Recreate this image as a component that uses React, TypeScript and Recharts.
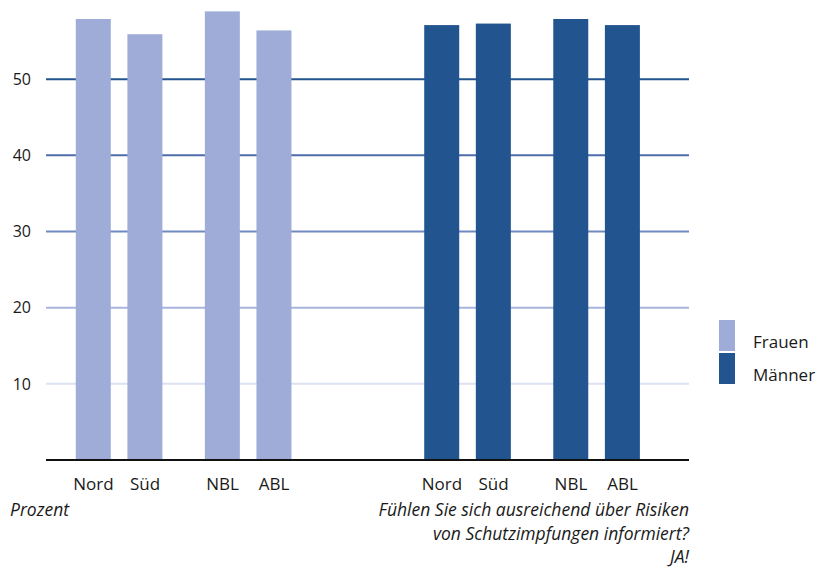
import React from 'react';
import { BarChart, Bar, XAxis, YAxis, CartesianGrid, Legend } from 'recharts';

// Werte in Prozent
const regions = ['Nord', 'Süd', 'NBL', 'ABL'];
const frauen = [57.9, 55.9, 58.9, 56.4];
const maenner = [57.1, 57.3, 57.9, 57.1];
const yTicks = [10, 20, 30, 40, 50];

const FONT = '"Open Sans", sans-serif';
const TEXT = '#1a1a1a';
const LIGHT = '#9eacd7';
const DARK = '#22558f';
// one colour per grid line, same order as yTicks
const GRID_COLORS = ['#dde2f2', '#a8b5dd', '#7189c1', '#4e6eab', '#22558f'];
const BAR_W = 35;

const groups = [
  { key: 'frauen', name: 'Frauen', values: frauen, color: LIGHT },
  { key: 'maenner', name: 'Männer', values: maenner, color: DARK },
];

// empty slots keep the pairs apart on the category axis
const rows: Record<string, string | number>[] = [];
const blanks = (n: number) => {
  for (let i = 0; i < n; i++) rows.push({ label: '' });
};
groups.forEach((g, gi) => {
  if (gi > 0) blanks(12);
  regions.forEach((r, ri) => {
    if (ri > 0) blanks(ri === 2 ? 5 : 3);
    rows.push({ label: r, [g.key]: g.values[ri] });
  });
});

const WideBar = (props: any) => {
  const { x, y, width, height, fill } = props;
  if (!height || height <= 0) return null;
  const cx = x + width / 2;
  return <rect x={cx - BAR_W / 2} y={y} width={BAR_W} height={height} fill={fill} />;
};

const GridLine = (props: any) => {
  const { x1, x2, y1, y2, index } = props;
  const stroke = GRID_COLORS[index];
  if (!stroke) return null;
  return <line x1={x1} x2={x2} y1={y1} y2={y2} stroke={stroke} strokeWidth={2} />;
};

const renderLegend = (props: any) => {
  const { payload = [] } = props;
  return (
    <div style={{ fontFamily: FONT }}>
      {payload.map((entry: any) => (
        <div key={entry.value} style={{ position: 'relative', height: 33 }}>
          <div style={{ position: 'absolute', left: 0, top: 0, width: 16, height: 31, background: entry.color }} />
          <div style={{ position: 'absolute', left: 34, top: 13, fontSize: 17, lineHeight: '17px', color: TEXT }}>
            {entry.value}
          </div>
        </div>
      ))}
    </div>
  );
};

const note: React.CSSProperties = {
  position: 'absolute',
  top: 498,
  fontSize: 17.5,
  lineHeight: '23.5px',
  fontStyle: 'italic',
  color: TEXT,
};

const App: React.FC = () => {
  return (
    <div style={{ position: 'absolute', left: 0, top: 0, width: 820, height: 571, background: '#fff', fontFamily: FONT }}>
      <BarChart
        width={820}
        height={571}
        data={rows}
        margin={{ top: 3, right: 30, bottom: 81, left: 0 }}
      >
        <CartesianGrid vertical={false} horizontal={GridLine} />
        <XAxis
          dataKey="label"
          interval={0}
          tickLine={false}
          axisLine={{ stroke: '#111', strokeWidth: 2 }}
          tickSize={0}
          tickMargin={18}
          height={30}
          padding={{ left: 41, right: 60 }}
          tick={{ fill: TEXT, fontSize: 17, fontFamily: FONT }}
        />
        <YAxis
          type="number"
          domain={[0, 60]}
          ticks={yTicks}
          width={46}
          axisLine={false}
          tickLine={false}
          tickSize={0}
          tickMargin={15}
          tick={{ fill: TEXT, fontSize: 16, fontFamily: FONT }}
        />
        <Legend
          layout="vertical"
          align="right"
          verticalAlign="top"
          content={renderLegend}
          wrapperStyle={{ left: 719, top: 320, width: 101 }}
        />
        {groups.map((g) => (
          <Bar
            key={g.key}
            dataKey={g.key}
            name={g.name}
            stackId="g"
            fill={g.color}
            shape={WideBar}
            isAnimationActive={false}
          />
        ))}
      </BarChart>
      <div style={{ ...note, left: 10 }}>Prozent</div>
      <div style={{ ...note, right: 820 - 689, textAlign: 'right' }}>
        Fühlen Sie sich ausreichend über Risiken
        <br />
        von Schutzimpfungen informiert?
        <br />
        JA!
      </div>
    </div>
  );
};

export default App;
